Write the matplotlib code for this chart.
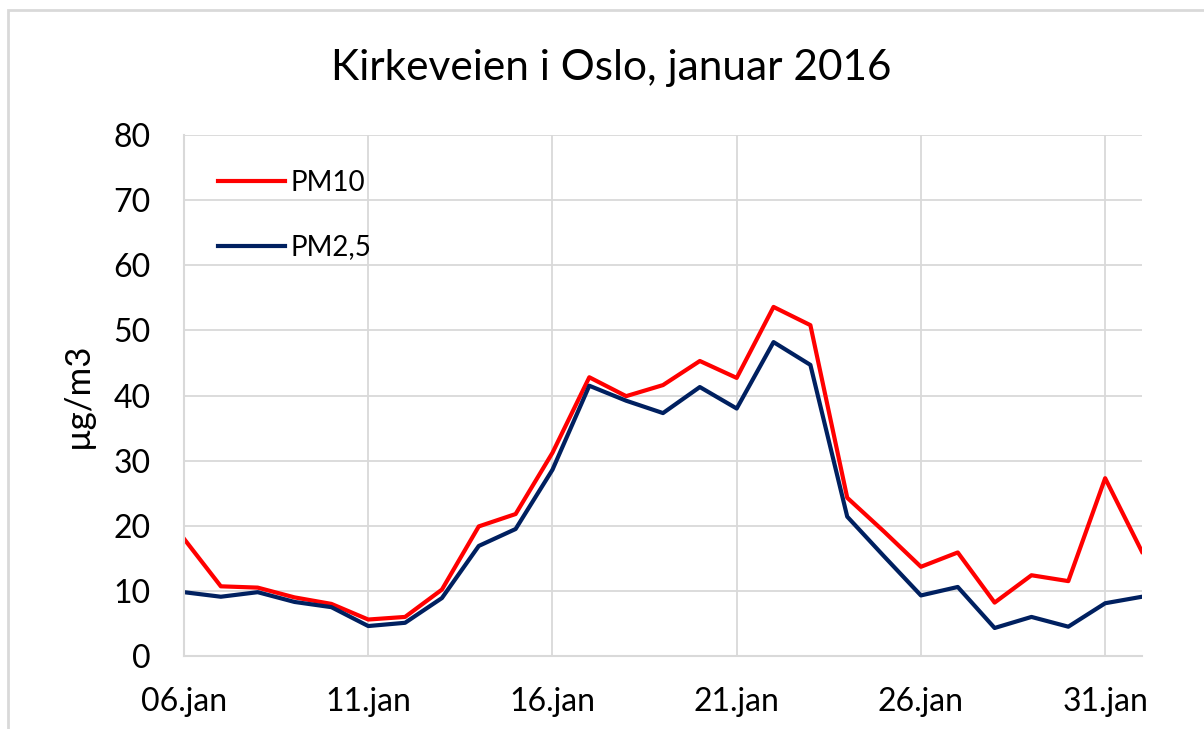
import numpy as np
import matplotlib
matplotlib.use("Agg")
import matplotlib.pyplot as plt
from matplotlib.patches import Rectangle

plt.rcParams['font.family'] = ['Lato', 'DejaVu Sans']

# daily means, Kirkeveien, 06.jan - 01.feb 2016
days = np.arange(np.datetime64('2016-01-06'), np.datetime64('2016-02-02'))
pm10 = [18.0, 10.7, 10.5, 9.0, 8.0, 5.6, 6.0, 10.2, 19.9, 21.8, 31.2, 42.8, 39.9, 41.6,
        45.3, 42.7, 53.6, 50.8, 24.3, 19.1, 13.7, 15.9, 8.2, 12.4, 11.5, 27.3, 16.0]
pm25 = [9.8, 9.1, 9.8, 8.3, 7.5, 4.6, 5.1, 8.9, 16.9, 19.5, 28.6, 41.5, 39.2, 37.3,
        41.3, 38.0, 48.2, 44.7, 21.4, 15.3, 9.3, 10.6, 4.3, 6.0, 4.5, 8.1, 9.1]
tick_days = np.array(['2016-01-06', '2016-01-11', '2016-01-16', '2016-01-21',
                      '2016-01-26', '2016-01-31'], dtype='datetime64[D]')
tick_labels = ["06.jan", "11.jan", "16.jan", "21.jan", "26.jan", "31.jan"]
yticks = [0, 10, 20, 30, 40, 50, 60, 70, 80]

W, H = 1204, 729
fig = plt.figure(figsize=(W/100, H/100), dpi=100)
grid_c = '#D9D9D9'

# outer chart frame (cut off at right and bottom)
fig.patches.append(Rectangle((8/W, -0.2), 1.2, 1.2 - 10/H, transform=fig.transFigure,
                             fill=False, ec=grid_c, lw=2, zorder=0))

ax = fig.add_axes([184/W, 1-656/H, (1142-184)/W, (656-135)/H])
ax.plot(days, pm10, color='#FF0000', lw=3, label='PM10', solid_joinstyle='round')
ax.plot(days, pm25, color='#002060', lw=3, label='PM2,5', solid_joinstyle='round')

ax.set_xlim(days[0], days[-1])
ax.set_ylim(0, 80)
ax.set_xticks(tick_days)
ax.set_xticklabels(tick_labels)
ax.set_yticks(yticks)
ax.tick_params(axis='x', length=0, pad=22, labelsize=23)
ax.tick_params(axis='y', length=0, pad=24, labelsize=23)
ax.grid(True, color=grid_c, lw=1.3)
ax.set_axisbelow(True)
for s in ['top', 'right']:
    ax.spines[s].set_visible(False)
for s in ['left', 'bottom']:
    ax.spines[s].set_color(grid_c)
    ax.spines[s].set_linewidth(1.5)

ax.set_ylabel("µg/m3", fontsize=25, va='center')
ax.yaxis.set_label_coords((78-184)/958, 0.5)

leg = ax.legend(loc='upper left', frameon=False, fontsize=20, handlelength=2.4,
                handletextpad=0.2, labelspacing=1.38, borderpad=0, borderaxespad=0,
                bbox_to_anchor=((218-184)/958, (656-170)/521))

fig.text(611/W, 1-68/H, "Kirkeveien i Oslo, januar 2016", ha='center', va='center',
         fontsize=30.5)

fig.savefig("out.png", dpi=100)
